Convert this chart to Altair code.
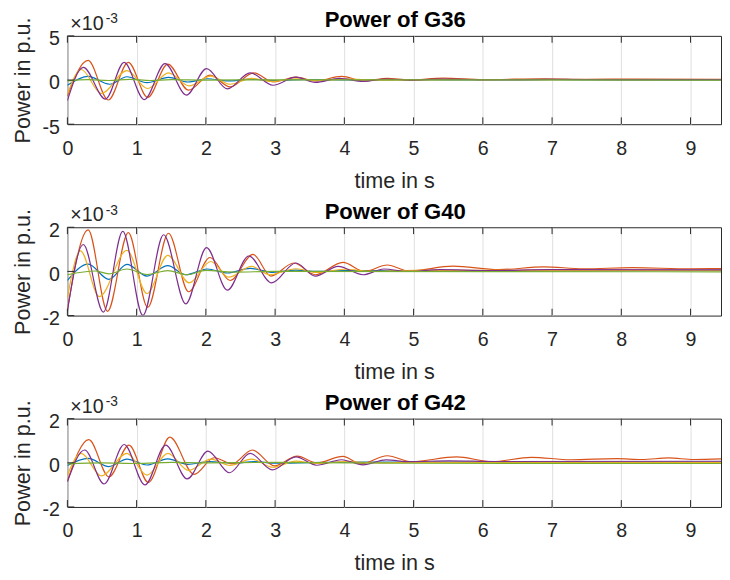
import altair as alt
import pandas as pd

# ---------------- data (values in units of 1e-3 p.u.) ----------------
TIME_TICKS = [0, 1, 2, 3, 4, 5, 6, 7, 8, 9]
T_MAX = 9.44

COLORS = {"blue": "#0072BD", "orange": "#D95319", "yellow": "#EDB120",
          "purple": "#7E2F8E", "green": "#77AC30"}

G36_BLUE = [(0, -0.6), (0.30, 0.41), (0.61, -0.48), (0.86, 0.37), (1.15, -0.30), (1.46, 0.30),
            (1.74, -0.22), (2.02, 0.15), (2.32, -0.10), (2.64, 0.10), (2.97, -0.05), (3.4, 0.05),
            (4.0, 0.02), (5.0, 0.03), (6.0, 0.02), (7.0, 0.03), (8.0, 0.02), (9.44, 0.02)]
G36_ORANGE = [(0, -1.8), (0.30, 2.22), (0.59, -2.26), (0.88, 2.0), (1.16, -1.96), (1.45, 1.81),
              (1.75, -1.15), (2.06, 0.56), (2.35, -0.78), (2.69, 0.81), (2.98, -0.22), (3.30, 0.33),
              (3.58, -0.11), (3.96, 0.41), (4.29, -0.11), (4.62, 0.19), (4.93, 0.0), (5.43, 0.22),
              (6.0, 0.05), (6.9, 0.15), (7.5, 0.08), (8.2, 0.12), (9.44, 0.08)]
G36_YELLOW = [(0, -1.6), (0.20, 1.19), (0.49, -1.52), (0.86, 1.07), (1.16, -0.96), (1.46, 0.81),
              (1.76, -0.67), (2.07, 0.44), (2.35, -0.48), (2.66, 0.19), (2.95, -0.15), (3.3, 0.15),
              (3.6, -0.05), (4.0, 0.10), (4.5, 0.0), (5.5, 0.05), (9.44, 0.03)]
G36_PURPLE = [(0, -2.33), (0.23, 1.44), (0.55, -2.15), (0.82, 2.0), (1.11, -2.22), (1.41, 1.85),
              (1.72, -1.70), (2.01, 1.30), (2.31, -1.0), (2.64, 0.81), (2.97, -0.59), (3.30, 0.33),
              (3.58, -0.26), (3.93, 0.19), (4.27, -0.15), (4.6, 0.12), (4.95, 0.0), (5.4, 0.1),
              (6.2, 0.03), (7.0, 0.08), (8.0, 0.05), (9.44, 0.05)]
G36_GREEN = [(0, -0.1), (0.3, 0.05), (0.6, -0.05), (0.9, 0.08), (1.2, -0.05), (1.5, 0.05),
             (2.0, 0.0), (3.0, 0.02), (9.44, 0.0)]

G40_BLUE = [(0, -0.41), (0.30, 0.33), (0.60, -0.36), (0.86, 0.32), (1.15, -0.21), (1.45, 0.26),
            (1.71, -0.15), (2.02, 0.11), (2.31, -0.07), (2.64, 0.14), (2.97, -0.04), (3.3, 0.06),
            (3.6, 0.0), (4.0, 0.04), (5.0, 0.03), (9.44, 0.05)]
G40_ORANGE = [(0, -1.73), (0.30, 1.88), (0.58, -1.81), (0.88, 1.76), (1.16, -1.63), (1.46, 1.73),
              (1.75, -0.92), (2.06, 0.63), (2.35, -0.41), (2.68, 0.77), (2.94, -0.21), (3.27, 0.38),
              (3.58, -0.15), (3.98, 0.41), (4.29, 0.0), (4.62, 0.29), (4.93, 0.02), (5.57, 0.24),
              (6.23, 0.08), (6.88, 0.21), (7.45, 0.12), (8.16, 0.17), (9.0, 0.12), (9.44, 0.13)]
G40_YELLOW = [(0, -1.19), (0.19, 0.93), (0.46, -1.14), (0.86, 0.95), (1.15, -1.0), (1.45, 0.73),
              (1.76, -0.52), (2.07, 0.45), (2.33, -0.26), (2.66, 0.23), (2.92, -0.15), (3.3, 0.12),
              (3.6, -0.05), (4.0, 0.10), (4.4, 0.0), (5.0, 0.05), (9.44, 0.05)]
G40_PURPLE = [(0, -1.81), (0.23, 1.22), (0.52, -1.84), (0.80, 1.81), (1.09, -1.99), (1.39, 1.66),
              (1.71, -1.47), (2.01, 1.08), (2.31, -0.85), (2.62, 0.70), (2.95, -0.52), (3.30, 0.38),
              (3.58, -0.21), (3.91, 0.23), (4.27, -0.15), (4.57, 0.11), (4.92, 0.0), (5.38, 0.08),
              (6.1, 0.04), (6.95, 0.08), (9.44, 0.07)]
G40_GREEN = [(0, -0.15), (0.4, 0.02), (0.6, -0.11), (0.86, 0.11), (1.15, -0.14), (1.45, 0.04),
             (1.73, -0.15), (2.0, 0.05), (2.4, -0.03), (3.0, 0.0), (9.44, -0.02)]

G42_BLUE = [(0, -0.12), (0.30, 0.20), (0.60, -0.17), (0.86, 0.17), (1.15, -0.10), (1.45, 0.18),
            (1.74, -0.07), (2.05, 0.05), (2.4, -0.02), (2.7, 0.06), (3.0, -0.02), (4.0, 0.03),
            (9.44, 0.03)]
G42_ORANGE = [(0, -0.83), (0.31, 1.05), (0.60, -0.64), (0.89, 0.80), (1.17, -0.89), (1.48, 1.16),
              (1.83, -0.52), (2.12, 0.23), (2.38, -0.05), (2.67, 0.58), (2.99, -0.14), (3.32, 0.30),
              (3.6, 0.0), (3.98, 0.29), (4.24, -0.05), (4.62, 0.32), (4.97, 0.05), (5.62, 0.27),
              (6.13, 0.05), (6.70, 0.25), (7.27, 0.14), (7.93, 0.19), (8.3, 0.15), (8.68, 0.22),
              (9.05, 0.15), (9.44, 0.18)]
G42_YELLOW = [(0, -0.56), (0.20, 0.43), (0.49, -0.59), (0.86, 0.43), (1.15, -0.56), (1.45, 0.43),
              (1.75, -0.34), (2.07, 0.17), (2.35, -0.12), (2.66, 0.17), (2.97, -0.20), (3.3, 0.08),
              (3.6, -0.03), (4.0, 0.05), (4.5, 0.0), (5.0, 0.02), (9.44, 0.02)]
G42_PURPLE = [(0, -0.86), (0.25, 0.58), (0.53, -0.96), (0.82, 0.83), (1.12, -1.0), (1.42, 0.80),
              (1.73, -0.73), (2.03, 0.53), (2.34, -0.45), (2.64, 0.43), (2.96, -0.32), (3.30, 0.27),
              (3.6, -0.11), (3.96, 0.14), (4.27, -0.09), (4.6, 0.13), (4.95, 0.05), (5.5, 0.09),
              (6.2, 0.06), (9.44, 0.07)]
G42_GREEN = [(0, -0.05), (0.5, 0.0), (1.0, -0.03), (1.5, 0.02), (2.0, 0.0), (3.0, 0.02),
             (5.0, -0.02), (9.44, -0.03)]

PANELS = [
    ("Power of G36", 5, [("blue", G36_BLUE), ("orange", G36_ORANGE), ("yellow", G36_YELLOW),
                         ("purple", G36_PURPLE), ("green", G36_GREEN)]),
    ("Power of G40", 2, [("blue", G40_BLUE), ("orange", G40_ORANGE), ("yellow", G40_YELLOW),
                         ("purple", G40_PURPLE), ("green", G40_GREEN)]),
    ("Power of G42", 2, [("blue", G42_BLUE), ("orange", G42_ORANGE), ("yellow", G42_YELLOW),
                         ("purple", G42_PURPLE), ("green", G42_GREEN)]),
]

FONT = "Liberation Sans"
TXT = "#262626"
W, H = 666, 90
XT = "time in s"
YT = "Power in p.u."


def make_panel(title, ymax, series):
    xs = alt.Scale(domain=[0, T_MAX], nice=False, zero=False)
    ys = alt.Scale(domain=[-ymax, ymax], nice=False, zero=False)
    yticks = [-ymax, 0, ymax]

    xdf = pd.DataFrame({"t": TIME_TICKS})
    ydf = pd.DataFrame({"v": yticks})
    one = pd.DataFrame({"k": [0]})

    xaxis = alt.Axis(
        values=TIME_TICKS, title=XT, grid=True, gridColor="#DFDFDF", gridWidth=1,
        ticks=False, domain=False, labelFlush=False, labelFontSize=20, labelPadding=14.5,
        labelColor=TXT, labelFont=FONT, titleFont=FONT, titleFontSize=22,
        titleFontWeight="normal", titleColor=TXT, titleBaseline="alphabetic", titleY=64)
    yaxis = alt.Axis(
        values=yticks, title=YT, grid=False, ticks=False, domain=False,
        labelExpr="'' + datum.value", labelFontSize=20, labelPadding=8, labelOffset=3,
        labelColor=TXT, labelFont=FONT, titleFont=FONT, titleFontSize=22,
        titleFontWeight="normal", titleColor=TXT, titleAngle=270, titleAlign="center",
        titleBaseline="top", titleX=-55.5, titleY=H / 2)

    def X():
        return alt.X("t:Q", scale=xs, axis=xaxis, title=XT)

    def Y():
        return alt.Y("v:Q", scale=ys, axis=yaxis, title=YT)

    layers = []
    for name, pts in series:
        df = pd.DataFrame(pts, columns=["t", "v"])
        layers.append(alt.Chart(df).mark_line(color=COLORS[name], strokeWidth=1.2,
                                              interpolate="monotone", clip=True).encode(
            x=X(), y=Y()))

    top_ticks = alt.Chart(xdf).mark_rule(color=TXT, strokeWidth=1).encode(
        x=X(), y=alt.value(0), y2=alt.value(7))
    bot_ticks = alt.Chart(xdf).mark_rule(color=TXT, strokeWidth=1).encode(
        x=X(), y=alt.value(H - 7), y2=alt.value(H))
    left_ticks = alt.Chart(ydf).mark_rule(color=TXT, strokeWidth=1).encode(
        y=Y(), x=alt.value(0), x2=alt.value(7))

    exp_base = alt.Chart(one).mark_text(text="\u00d710", align="left", baseline="alphabetic",
                                        fontSize=20, font=FONT, color=TXT).encode(
        x=alt.value(3), y=alt.value(-6))
    exp_sup = alt.Chart(one).mark_text(text="-3", align="left", baseline="alphabetic",
                                       fontSize=14, font=FONT, color=TXT).encode(
        x=alt.value(39), y=alt.value(-13))
    title_txt = alt.Chart(one).mark_text(text=title, align="center", baseline="alphabetic",
                                         fontSize=22.5, fontWeight="bold", font=FONT,
                                         color="#000000").encode(
        x=alt.value(W / 2 + 1), y=alt.value(-8.7))

    layers += [top_ticks, bot_ticks, left_ticks, exp_base, exp_sup, title_txt]
    return alt.layer(*layers).properties(width=W, height=H)


panels = [make_panel(t, m, s) for t, m, s in PANELS]

chart = alt.vconcat(*panels, spacing=8).properties(
    padding={"left": 3.5, "top": -5, "right": 0, "bottom": 0}
).configure_view(stroke=TXT, strokeWidth=1)

chart.save("out.html", embed_options={"renderer": "svg", "actions": False})
